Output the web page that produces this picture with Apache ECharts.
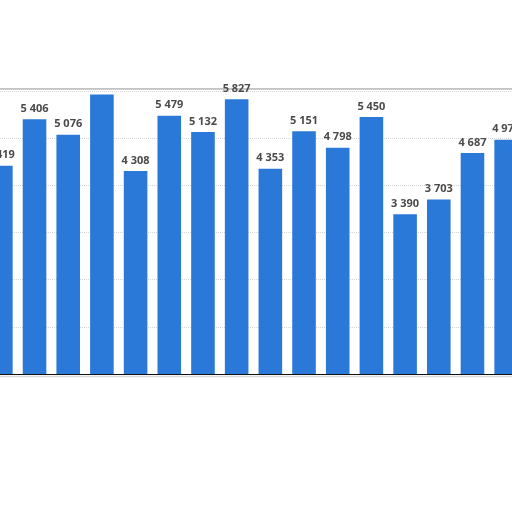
<!DOCTYPE html>
<html><head><meta charset="utf-8">
<script src="https://cdn.jsdelivr.net/npm/echarts@6/dist/echarts.min.js"></script>
<style>html,body{margin:0;padding:0;background:#fff;overflow:hidden;width:512px;height:512px;position:relative}
#c{position:absolute;left:-15.8px;top:0;width:539px;height:512px}</style>
</head><body><div id="c"></div>
<script>
var categories = ['1','2','3','4','5','6','7','8','9','10','11','12','13','14','15','16'];
var values = [4419, 5406, 5076, 5930, 4308, 5479, 5132, 5827, 4353, 5151, 4798, 5450, 3390, 3703, 4687, 4970];
var hiddenLabels = [3];
var yTicks = [0, 1000, 2000, 3000, 4000, 5000, 6000];

function fmt(v){ return String(v).replace(/\B(?=(\d{3})+(?!\d))/g, ' '); }

var chart = echarts.init(document.getElementById('c'), null, {renderer:'canvas'});
chart.setOption({
  animation:false,
  grid:{left:0, right:0, top:89, bottom:138},
  xAxis:{type:'category', data:categories,
    axisLine:{show:true, lineStyle:{color:'#111', width:1.2}},
    axisTick:{show:false}, axisLabel:{show:false}},
  yAxis:{type:'value', min:yTicks[0], max:6045, interval:yTicks[1]-yTicks[0],
    axisLine:{show:false}, axisTick:{show:false}, axisLabel:{show:false},
    splitLine:{show:true, lineStyle:{color:'#d6d6d6', type:'dotted', width:1}}},
  graphic:[
    {type:'line', z:0, shape:{x1:15.8,y1:89,x2:540,y2:89}, style:{stroke:'#b0b0b0', lineWidth:1.5}, silent:true},
    {type:'line', shape:{x1:0,y1:376.5,x2:540,y2:376.5}, style:{stroke:'#d9d9d9', lineWidth:1.5}, silent:true}
  ],
  series:[{type:'bar', barCategoryGap:'30%', z:3,
    data: values.map(function(v,i){
      var d={value:v};
      if(hiddenLabels.indexOf(i)>=0) d.label={show:false};
      return d;}),
    itemStyle:{color:'#2a78d8'},
    label:{show:true, position:'top', distance:5, color:'#4a4a4a', fontWeight:'bold',
      fontSize:11, fontFamily:'Open Sans, Arial, sans-serif',
      formatter:function(p){return fmt(p.value);}}
  }]
});
</script></body></html>
